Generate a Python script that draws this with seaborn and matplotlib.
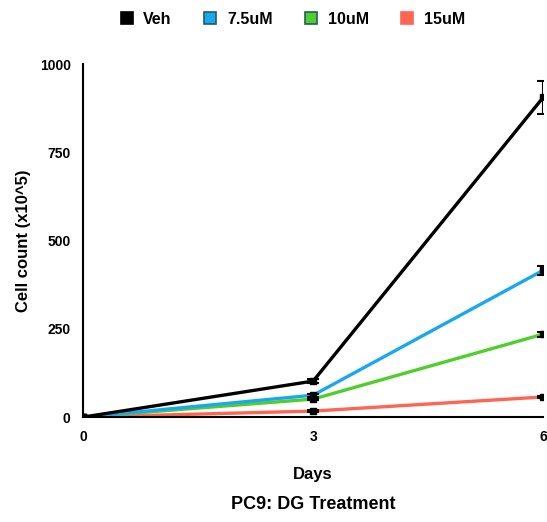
import numpy as np
import pandas as pd
import matplotlib
matplotlib.use('Agg')
import matplotlib.pyplot as plt
import seaborn as sns
from matplotlib.lines import Line2D

days = [0, 3, 6]
groups = ['Veh', '7.5uM', '10uM', '15uM']
veh = [0, 102, 906]
um75 = [0, 62, 416]
um10 = [0, 51, 235]
um15 = [0, 17, 57]
veh_err = [0, 6, 46]
um75_err = [0, 4, 13]
um10_err = [0, 4, 7]
um15_err = [0, 3, 3]
colors = ['#000000', '#1aa7f2', '#4fcf2c', '#ff6552']

data = pd.DataFrame({
    'Days': days * 4,
    'Count': veh + um75 + um10 + um15,
    'Err': veh_err + um75_err + um10_err + um15_err,
    'Group': [g for g in groups for _ in days],
})

sns.set_style('white')
plt.rcParams['font.family'] = ['Liberation Sans', 'DejaVu Sans']
plt.rcParams['font.weight'] = 'bold'
plt.rcParams['text.color'] = 'black'
plt.rcParams['axes.labelcolor'] = 'black'
plt.rcParams['xtick.color'] = 'black'
plt.rcParams['ytick.color'] = 'black'

fig = plt.figure(figsize=(5.47, 5.22), dpi=100)
ax = fig.add_axes([0.152, 0.201, 0.841, 0.676])

# lines drawn last-to-first so black sits on top
for g, c in reversed(list(zip(groups, colors))):
    d = data[data.Group == g]
    sns.lineplot(data=d, x='Days', y='Count', color=c, linewidth=2.4, ax=ax,
                 zorder=3 if g == 'Veh' else 2, legend=False)
    ax.errorbar(d.Days, d.Count, yerr=d.Err, fmt='s', color='black', ms=4.5,
                capsize=4, elinewidth=1.5, capthick=1.5, zorder=4)

ax.set_xlim(0, 6)
ax.set_ylim(0, 1000)
ax.set_xticks([0, 3, 6])
ax.set_yticks([0, 250, 500, 750, 1000])
ax.tick_params(axis='both', labelsize=10, length=0, pad=9)
for t in ax.get_xticklabels() + ax.get_yticklabels():
    t.set_fontweight('bold')
sns.despine(ax=ax)
for s in ['left', 'bottom']:
    ax.spines[s].set_linewidth(1.5)
    ax.spines[s].set_color('black')
ax.set_xlabel('Days', fontsize=12, fontweight='bold', labelpad=17)
ax.set_ylabel('Cell count (x10^5)', fontsize=12, fontweight='bold', labelpad=6)
ax.text(0.5, -0.249, 'PC9: DG Treatment', transform=ax.transAxes, ha='center',
        va='center', fontsize=13, fontweight='bold')

hs = [Line2D([], [], marker='s', ls='', ms=9, markerfacecolor=c,
             markeredgecolor='#1f5f5f' if i in (1, 2) else c, markeredgewidth=1.2)
      for i, c in enumerate(colors)]
ax.legend(hs, groups, loc='center', bbox_to_anchor=(0.445, 1.128), ncol=4,
          frameon=False, handletextpad=0.05, columnspacing=1.4,
          prop={'weight': 'bold', 'size': 11.5})

fig.savefig('out.png', dpi=100)
